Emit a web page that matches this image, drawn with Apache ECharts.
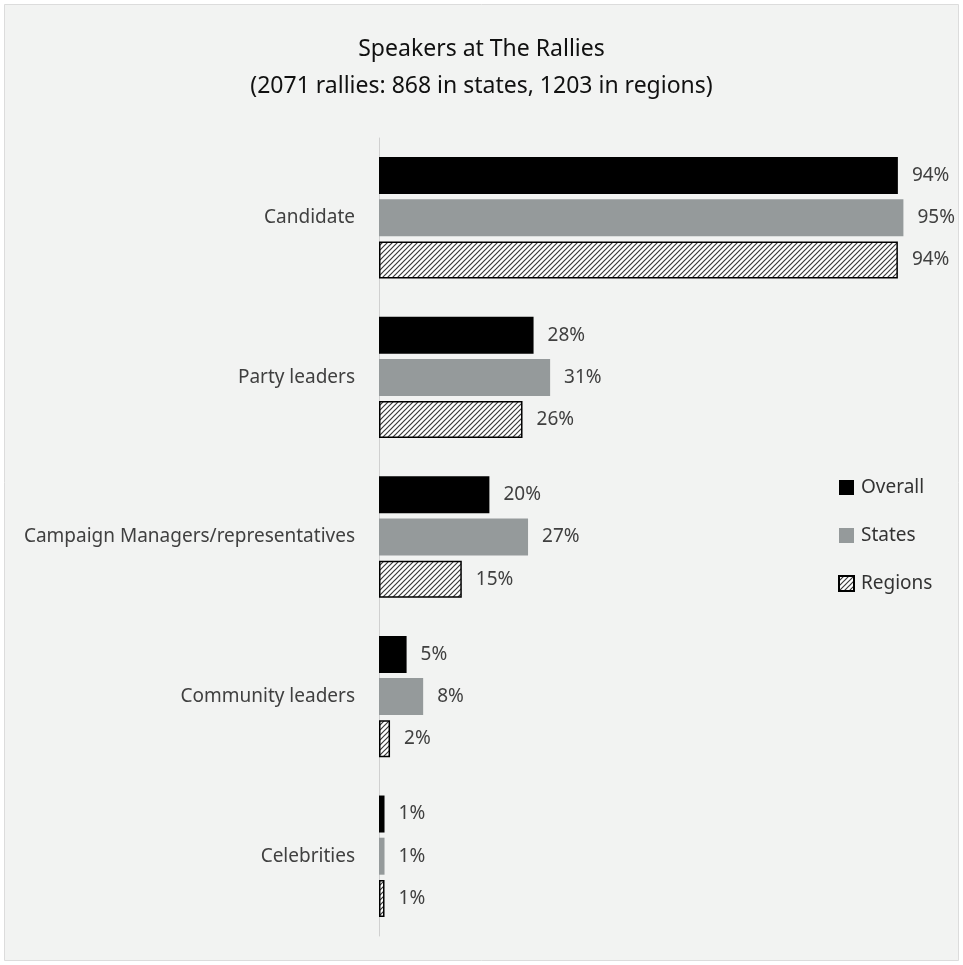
<!DOCTYPE html>
<html>
<head>
<meta charset="utf-8">
<script src="https://cdn.jsdelivr.net/npm/echarts@6/dist/echarts.min.js"></script>
<style>
html,body{margin:0;padding:0;background:#fff;}
#c{width:963px;height:965px;}
</style>
</head>
<body>
<div id="c"></div>
<script>
const titleLines = ['Speakers at The Rallies', '(2071 rallies: 868 in states, 1203 in regions)'];
const categories = ['Candidate', 'Party leaders', 'Campaign Managers/representatives', 'Community leaders', 'Celebrities'];
const seriesNames = ['Overall', 'States', 'Regions'];
const overall = [94, 28, 20, 5, 1];
const states = [95, 31, 27, 8, 1];
const regions = [94, 26, 15, 2, 1];

function hatch() {
  const s = 5;
  const cv = document.createElement('canvas');
  cv.width = s; cv.height = s;
  const ctx = cv.getContext('2d');
  ctx.fillStyle = '#ffffff';
  ctx.fillRect(0, 0, s, s);
  ctx.strokeStyle = '#3a3a3a';
  ctx.lineWidth = 1.2;
  ctx.beginPath();
  ctx.moveTo(-1, s + 1); ctx.lineTo(s + 1, -1);
  ctx.moveTo(-1, 1); ctx.lineTo(1, -1);
  ctx.moveTo(s - 1, s + 1); ctx.lineTo(s + 1, s - 1);
  ctx.stroke();
  return cv;
}
const hatchFill = { image: hatch(), repeat: 'repeat' };

const chart = echarts.init(document.getElementById('c'), null, { renderer: 'canvas' });
const FONT = '"Noto Sans", sans-serif';
const labelCfg = {
  show: true, position: 'right', distance: 14,
  formatter: p => p.value + '%',
  color: '#404040', fontSize: 19, fontFamily: FONT
};
const seriesData = [overall, states, regions];
const styles = [
  { color: '#000000' },
  { color: '#959a9b' },
  { color: hatchFill, borderColor: '#000000', borderWidth: 1.5 }
];
chart.setOption({
  backgroundColor: '#ffffff',
  animation: false,
  graphic: [{
    type: 'rect', z: -10, silent: true,
    shape: { x: 4.5, y: 4.5, width: 954, height: 956 },
    style: { fill: '#f2f3f2', stroke: '#dcdcdc', lineWidth: 1 }
  }],
  title: {
    text: titleLines.join('\n'),
    left: 'center', top: 26,
    textStyle: { fontFamily: FONT, fontSize: 23, fontWeight: 'normal', color: '#111', lineHeight: 37 }
  },
  legend: {
    orient: 'vertical', left: 833, top: 473, itemGap: 29,
    itemWidth: 15, itemHeight: 15,
    textStyle: { fontFamily: FONT, fontSize: 19, color: '#333', padding: [0, 0, 0, 2] },
    data: seriesNames.map(n => ({ name: n, icon: 'rect' }))
  },
  grid: { left: 379, top: 138, width: 552, height: 798, containLabel: false },
  xAxis: {
    type: 'value', min: 0, max: 100,
    show: false
  },
  yAxis: {
    type: 'category', data: categories, inverse: true,
    axisLine: { show: true, lineStyle: { color: '#d0d0d0', width: 1 } },
    axisTick: { show: false },
    axisLabel: { fontFamily: FONT, fontSize: 19, color: '#404040', margin: 24, padding: [0, 0, 12, 0] }
  },
  series: seriesNames.map((n, i) => ({
    name: n, type: 'bar', data: seriesData[i],
    barWidth: 37, barGap: '14%',
    itemStyle: styles[i],
    label: labelCfg
  }))
});
</script>
</body>
</html>
